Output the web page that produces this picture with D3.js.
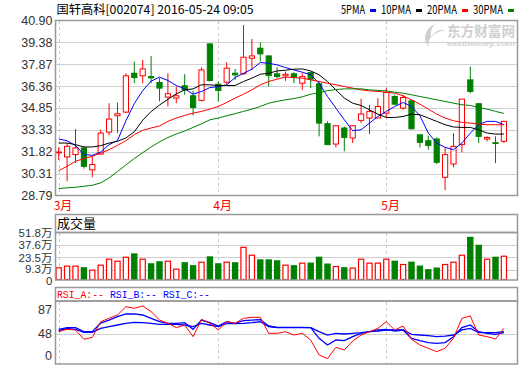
<!DOCTYPE html>
<html>
<head>
<meta charset="utf-8">
<script src="https://cdn.jsdelivr.net/npm/d3@7/dist/d3.min.js"></script>
<style>
body { margin: 0; background: #fff; }
text { font-family: 'Liberation Sans', Arial, sans-serif; }
</style>
</head>
<body>
<svg id="chart" width="520" height="365"></svg>
<script>
// daily bars, 2016-03 .. 2016-05-24
var open = [31.78, 31.46, 31.62, 32.08, 30.56, 31.66, 33.18, 34.31, 34.56, 37.25,
  37.07, 37.02, 36.61, 35.60, 35.53, 36.38, 35.69, 35.37, 39.28, 36.49,
  36.63, 37.25, 37.21, 38.29, 38.98, 38.45, 37.21, 37.07, 37.21, 36.56,
  37.30, 36.52, 33.76, 32.35, 33.46, 32.77, 33.99, 34.15, 34.15, 34.49,
  35.64, 34.84, 35.34, 32.99, 32.58, 32.70, 30.05, 30.97, 32.31, 36.79,
  35.14, 32.70, 32.44, 32.54]
var close = [31.80, 32.19, 32.08, 30.81, 30.93, 33.11, 34.08, 34.45, 37.07, 36.95,
  37.55, 36.93, 36.22, 35.83, 35.69, 36.10, 34.88, 37.48, 36.75, 36.06,
  37.60, 37.14, 38.36, 38.45, 38.59, 37.09, 37.02, 37.18, 36.98, 37.02,
  36.84, 33.80, 32.31, 33.62, 32.81, 33.62, 34.43, 34.61, 34.95, 35.92,
  35.11, 35.57, 33.41, 32.47, 32.26, 31.09, 31.62, 32.19, 35.46, 35.99,
  32.88, 32.81, 32.40, 33.92]
var high = [32.12, 32.42, 33.39, 32.19, 31.50, 33.34, 35.18, 35.21, 37.25, 38.06,
  38.17, 38.45, 36.91, 37.25, 36.33, 37.18, 36.03, 37.65, 39.32, 36.68,
  38.01, 37.55, 40.59, 39.62, 39.39, 38.45, 37.67, 37.37, 37.32, 37.25,
  37.37, 36.68, 33.92, 33.62, 33.57, 33.62, 35.49, 35.07, 35.53, 36.22,
  35.76, 35.76, 35.41, 32.99, 32.93, 32.81, 32.12, 33.11, 35.46, 37.71,
  35.18, 32.88, 32.88, 33.96]
var low = [31.25, 29.78, 31.04, 30.65, 30.05, 31.62, 32.95, 33.11, 34.49, 36.56,
  36.56, 36.56, 35.30, 34.95, 35.18, 35.76, 34.33, 35.30, 36.68, 35.30,
  36.45, 36.79, 37.14, 37.48, 38.06, 36.33, 36.91, 36.72, 36.56, 36.10,
  36.22, 32.88, 32.31, 32.12, 31.85, 32.42, 33.80, 33.04, 34.15, 34.15,
  35.07, 34.72, 33.34, 32.12, 31.96, 30.97, 29.16, 30.74, 31.78, 35.87,
  32.42, 32.54, 31.04, 32.42]
// volume, 万
var volume = [11.6, 13.5, 13.5, 11.6, 9.0, 14.6, 21.4, 19.1, 23.6, 27.4,
  21.4, 16.1, 18.4, 19.1, 10.1, 17.3, 13.9, 18.0, 24.0, 16.1,
  18.0, 17.3, 34.9, 25.9, 20.6, 20.6, 19.5, 14.6, 13.9, 16.9,
  16.9, 23.6, 15.8, 13.1, 11.6, 11.3, 21.4, 16.9, 16.9, 21.4,
  19.1, 15.4, 18.0, 13.5, 9.4, 11.3, 15.4, 18.0, 25.9, 46.2,
  37.2, 21.4, 23.6, 24.8]
var ma5 = [32.70, 32.58, 32.25, 31.62, 31.57, 31.80, 32.31, 32.60, 33.96, 35.15,
  36.05, 36.70, 36.98, 36.75, 36.40, 36.17, 35.80, 35.99, 36.26, 36.33,
  36.45, 36.95, 37.25, 37.53, 37.99, 37.94, 37.83, 37.64, 37.48, 37.32,
  37.14, 36.56, 35.64, 34.84, 34.03, 33.27, 33.34, 33.80, 34.26, 34.61,
  34.95, 35.23, 34.95, 34.31, 33.11, 32.42, 32.12, 31.96, 32.42, 33.11,
  33.69, 33.92, 33.92, 33.69]
var ma10 = [32.42, 32.42, 32.31, 32.15, 32.15, 32.24, 32.42, 32.54, 32.77, 33.20,
  34.00, 34.60, 35.05, 35.45, 35.82, 36.10, 36.17, 36.45, 36.45, 36.40,
  36.40, 36.40, 36.68, 36.91, 37.18, 37.25, 37.41, 37.46, 37.53, 37.55,
  37.41, 37.14, 36.68, 36.10, 35.53, 35.18, 35.02, 34.72, 34.42, 34.19,
  34.19, 34.26, 34.42, 34.38, 34.15, 33.92, 33.69, 33.53, 33.50, 33.50,
  33.34, 33.11, 33.04, 33.04]
var ma20 = [30.51, 30.81, 31.16, 31.34, 31.50, 31.73, 31.96, 32.26, 32.58, 33.00,
  33.30, 33.46, 33.60, 33.92, 34.15, 34.33, 34.49, 34.61, 34.77, 34.95,
  35.23, 35.53, 35.80, 36.10, 36.45, 36.68, 36.84, 36.98, 36.95, 36.91,
  36.79, 36.68, 36.56, 36.45, 36.33, 36.22, 36.10, 36.03, 35.99, 35.94,
  35.87, 35.69, 35.41, 35.11, 34.77, 34.42, 34.15, 33.96, 33.85, 33.80,
  33.73, 33.69, 33.69, 33.69]
var ma30 = [29.27, 29.32, 29.36, 29.43, 29.50, 29.66, 30.01, 30.45, 30.90, 31.35,
  31.75, 32.15, 32.50, 32.80, 33.05, 33.25, 33.50, 33.75, 34.03, 34.15,
  34.31, 34.45, 34.61, 34.77, 34.95, 35.18, 35.30, 35.41, 35.50, 35.62,
  35.80, 35.90, 36.05, 36.12, 36.17, 36.17, 36.17, 36.10, 36.06, 36.03,
  35.94, 35.87, 35.76, 35.64, 35.53, 35.41, 35.30, 35.18, 35.07, 35.02,
  34.88, 34.77, 34.61, 34.47]
var rsiA = [51.3, 55.0, 54.0, 39.2, 42.3, 67.2, 72.5, 77.8, 91.0, 88.4,
  92.1, 83.1, 69.8, 64.6, 57.7, 61.9, 43.4, 70.9, 64.6, 54.0,
  67.2, 64.6, 72.5, 74.1, 74.1, 48.7, 48.7, 51.3, 46.0, 48.7,
  38.1, 14.3, 8.5, 26.5, 22.2, 36.5, 46.0, 51.3, 56.6, 67.2,
  54.0, 60.3, 39.2, 30.2, 24.9, 19.6, 24.9, 41.0, 72.5, 76.2,
  46.0, 43.4, 39.7, 56.6]
var rsiB = [55.0, 57.7, 57.7, 51.3, 51.3, 65.0, 69.8, 75.1, 79.4, 79.4,
  77.8, 72.5, 67.2, 64.6, 64.6, 65.6, 55.0, 69.8, 65.6, 60.3,
  67.2, 64.6, 68.8, 69.8, 70.5, 60.3, 58.2, 58.2, 58.2, 58.2,
  57.7, 40.7, 30.2, 38.1, 37.0, 43.4, 48.7, 51.3, 54.0, 55.0,
  52.4, 54.0, 40.7, 37.0, 33.9, 32.8, 33.9, 43.4, 57.7, 61.9,
  51.3, 48.7, 47.1, 49.7]
var rsiC = [52.9, 56.6, 55.0, 50.3, 50.3, 56.6, 59.3, 61.9, 64.6, 66.1,
  65.6, 64.6, 63.0, 63.0, 63.0, 61.9, 59.3, 64.6, 61.9, 59.3,
  64.0, 64.0, 64.6, 65.6, 67.0, 59.3, 57.7, 57.7, 57.7, 57.7,
  57.7, 51.3, 46.0, 48.7, 47.6, 48.7, 49.7, 51.3, 52.4, 54.0,
  54.0, 54.0, 47.1, 46.0, 45.0, 43.4, 44.4, 46.0, 54.0, 56.6,
  49.7, 49.7, 49.7, 51.3]

var monthLabels = ['3月', '4月', '5月']
var monthIdx = [0, 19, 39]
var priceTicks = [28.79, 30.31, 31.82, 33.33, 34.85, 36.36, 37.87, 39.38, 40.90]
var volTicks = [0, 9.3, 23.5, 37.6, 51.8]
var rsiTicks = [0, 48, 87]
var maNames = ['5PMA', '10PMA', '20PMA', '30PMA']
var maColors = ['#0000ff', '#000000', '#ff0000', '#008000']

var RED = '#ff0000'
var GREEN = '#008000'
var L = 55.5, R = 517.5

var svg = d3.select('#chart')
var n = open.length
var x = d3.scaleLinear().domain([0, n - 1]).range([58.7, 503.9])
var yP = d3.scaleLinear().domain([28.79, 40.90]).range([195.5, 20.5])
var yV = d3.scaleLinear().domain([0, 51.8]).range([278, 232.5])
var yR = d3.scaleLinear().domain([0, 100]).range([364, 301])

function up (i) { return close[i] >= open[i] }

// title + legend
svg.append('text')
  .attr('x', 56.5).attr('y', 14)
  .attr('font-size', '12px')
  .attr('fill', '#000')
  .attr('textLength', 197).attr('lengthAdjust', 'spacingAndGlyphs')
  .style('font-family', "'Noto Sans CJK SC', sans-serif")
  .text('国轩高科[002074] 2016-05-24 09:05')

var legX = [341, 381, 427, 473]
maNames.forEach(function (name, k) {
  var w = name.length * 6
  svg.append('text')
    .attr('x', legX[k]).attr('y', 14)
    .attr('font-size', '12px').attr('fill', '#000')
    .attr('textLength', w).attr('lengthAdjust', 'spacingAndGlyphs')
    .style('font-family', "'Noto Sans CJK SC', sans-serif")
    .text(name)
  svg.append('rect')
    .attr('x', legX[k] + w + 5).attr('y', 9)
    .attr('width', 6).attr('height', 3)
    .attr('fill', maColors[k])
})

// panel frames
function grid (g, scale, ticks) {
  g.selectAll('line.grid')
    .data(ticks)
    .enter().append('line')
    .attr('class', 'grid')
    .attr('x1', L).attr('x2', R)
    .attr('y1', function (d) { return Math.round(scale(d)) + 0.5 })
    .attr('y2', function (d) { return Math.round(scale(d)) + 0.5 })
    .attr('stroke', '#d0d0d0').attr('stroke-width', 1)
}
function vdash (g, top, bottom) {
  g.selectAll('line.vd')
    .data(monthIdx)
    .enter().append('line')
    .attr('class', 'vd')
    .attr('x1', function (d) { return Math.round(x(d)) + 0.5 })
    .attr('x2', function (d) { return Math.round(x(d)) + 0.5 })
    .attr('y1', top).attr('y2', bottom)
    .attr('stroke', '#c8c8c8').attr('stroke-dasharray', '3,3')
}
function frame (top, bottom) {
  svg.append('rect')
    .attr('x', L).attr('y', top)
    .attr('width', R - L).attr('height', bottom - top)
    .attr('fill', 'none').attr('stroke', '#999').attr('stroke-width', 1.5)
}

// ---- main price panel
var main = svg.append('g')
grid(main, yP, priceTicks.slice(1, -1))
vdash(main, 21, 195)

// watermark
var wm = main.append('g').attr('fill', '#cfcfcf')
wm.append('path')
  .attr('d', 'M437,23 C426,27 421,38 429,47 C427,39 432,33 445,30 C439,29 434,32 431,37 C430,31 432,26 437,23 Z')
wm.append('text')
  .attr('x', 447).attr('y', 36)
  .attr('font-size', '14px').attr('font-weight', 'bold')
  .attr('textLength', 68).attr('lengthAdjust', 'spacingAndGlyphs')
  .style('font-family', "'Noto Sans CJK SC', sans-serif")
  .text('东方财富网')
wm.append('text')
  .attr('x', 447).attr('y', 46)
  .attr('font-size', '8px').attr('font-weight', 'bold').attr('font-style', 'italic')
  .attr('textLength', 68).attr('lengthAdjust', 'spacingAndGlyphs')
  .text('eastmoney.com')

var candles = main.selectAll('g.candle')
  .data(d3.range(n))
  .enter().append('g')
  .attr('class', 'candle')
candles.append('line')
  .attr('x1', function (i) { return x(i) }).attr('x2', function (i) { return x(i) })
  .attr('y1', function (i) { return yP(high[i]) })
  .attr('y2', function (i) { return yP(low[i]) })
  .attr('stroke', function (i) { return up(i) ? RED : GREEN })
  .attr('stroke-width', 1)
candles.append('rect')
  .attr('x', function (i) { return x(i) - 2.6 })
  .attr('width', 5.2)
  .attr('y', function (i) { return yP(Math.max(open[i], close[i])) })
  .attr('height', function (i) { return Math.max(0.8, Math.abs(yP(open[i]) - yP(close[i]))) })
  .attr('fill', function (i) { return up(i) ? '#fff' : GREEN })
  .attr('stroke', function (i) { return up(i) ? RED : GREEN })
  .attr('stroke-width', 1)

var maLine = function (arr) {
  return d3.line()
    .x(function (d, i) { return x(i) })
    .y(function (d) { return yP(d) })(arr)
}
;[ma5, ma10, ma20, ma30].forEach(function (arr, k) {
  main.append('path')
    .attr('d', maLine(arr))
    .attr('fill', 'none')
    .attr('stroke', maColors[k])
    .attr('stroke-width', 1)
})
frame(20.5, 195.5)

main.append('g')
  .attr('transform', 'translate(' + L + ',0)')
  .call(d3.axisLeft(yP).tickValues(priceTicks).tickSize(0).tickPadding(3)
    .tickFormat(d3.format('.2f')))
  .call(function (g) { g.select('.domain').remove() })
  .selectAll('text')
  .attr('font-size', '12.5px').attr('fill', '#333')
  .style('font-family', "'Liberation Sans', Arial, sans-serif")

// month labels
svg.selectAll('text.month')
  .data(monthIdx)
  .enter().append('text')
  .attr('class', 'month')
  .attr('x', function (d) { return x(d) - 5 })
  .attr('y', 210)
  .attr('font-size', '12px')
  .attr('fill', RED)
  .style('font-family', "'Noto Sans CJK SC', sans-serif")
  .text(function (d, k) { return monthLabels[k] })

// ---- volume panel
svg.append('rect')
  .attr('x', L).attr('y', 214.5).attr('width', R - L).attr('height', 18)
  .attr('fill', 'none').attr('stroke', '#999').attr('stroke-width', 1.5)
svg.append('text')
  .attr('x', 57).attr('y', 228)
  .attr('font-size', '13px').attr('fill', '#000')
  .style('font-family', "'Noto Sans CJK SC', sans-serif")
  .text('成交量')

var vol = svg.append('g')
grid(vol, yV, volTicks.slice(1, -1))
vdash(vol, 233, 279)
vol.selectAll('rect.bar')
  .data(volume)
  .enter().append('rect')
  .attr('class', 'bar')
  .attr('x', function (d, i) { return x(i) - 2.6 })
  .attr('width', 5.2)
  .attr('y', function (d) { return yV(d) })
  .attr('height', function (d) { return 279.5 - yV(d) })
  .attr('fill', function (d, i) { return up(i) ? '#fff' : GREEN })
  .attr('stroke', function (d, i) { return up(i) ? RED : GREEN })
  .attr('stroke-width', 1.2)
frame(232.5, 280)

vol.append('g')
  .attr('transform', 'translate(' + L + ',0)')
  .call(d3.axisLeft(yV).tickValues(volTicks).tickSize(0).tickPadding(3)
    .tickFormat(function (d) { return d === 0 ? '0' : d + '万' }))
  .call(function (g) { g.select('.domain').remove() })
  .selectAll('text')
  .attr('font-size', '11.5px').attr('fill', '#333')
  .attr('dy', function (d) { return d === 0 ? '0.6em' : (d === 9.3 ? '0.2em' : '0.32em') })
  .style('font-family', "'Liberation Sans', 'Noto Sans CJK SC', sans-serif")

// ---- RSI panel
svg.append('rect')
  .attr('x', L).attr('y', 287.5).attr('width', R - L).attr('height', 13.5)
  .attr('fill', 'none').attr('stroke', '#999').attr('stroke-width', 1.5)
var rsiHead = [['RSI_A:--', RED, 57], ['RSI_B:--', '#0000ff', 110], ['RSI_C:--', '#0000ff', 163]]
rsiHead.forEach(function (h) {
  svg.append('text')
    .attr('x', h[2]).attr('y', 298)
    .attr('font-size', '11px').attr('fill', h[1])
    .attr('textLength', 47).attr('lengthAdjust', 'spacingAndGlyphs')
    .style('font-family', "'Liberation Mono', monospace")
    .text(h[0])
})

var rsi = svg.append('g')
grid(rsi, yR, [48])
vdash(rsi, 302, 363)
var rsiLine = d3.line()
  .x(function (d, i) { return x(i) })
  .y(function (d) { return yR(d) })
rsi.append('path').attr('d', rsiLine(rsiC))
  .attr('fill', 'none').attr('stroke', '#0000ff').attr('stroke-width', 1.3)
rsi.append('path').attr('d', rsiLine(rsiB))
  .attr('fill', 'none').attr('stroke', '#0000ff').attr('stroke-width', 1.3)
rsi.append('path').attr('d', rsiLine(rsiA))
  .attr('fill', 'none').attr('stroke', RED).attr('stroke-width', 1)
frame(301, 364)

rsi.selectAll('text.rl')
  .data(rsiTicks)
  .enter().append('text')
  .attr('class', 'rl')
  .attr('x', 52)
  .attr('y', function (d) { return Math.min(yR(d), 356) })
  .attr('dy', '0.35em')
  .attr('text-anchor', 'end')
  .attr('font-size', '12.5px').attr('fill', '#333')
  .text(function (d) { return d })
</script>
</body>
</html>
